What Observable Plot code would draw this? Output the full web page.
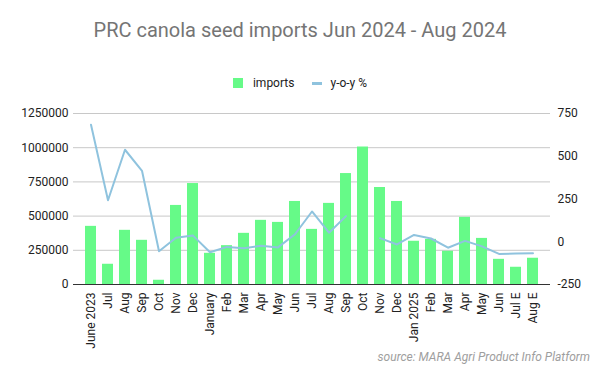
<!DOCTYPE html>
<html>
<head>
<meta charset="utf-8">
<script src="https://cdn.jsdelivr.net/npm/d3@7"></script>
<script src="https://cdn.jsdelivr.net/npm/@observablehq/plot@0.6"></script>
<style>
  html, body { margin: 0; padding: 0; background: #fff; }
  body { width: 600px; height: 371px; position: relative; overflow: hidden; font-family: Roboto, "Noto Sans", sans-serif; }
  #title { position: absolute; top: 18px; left: 0; width: 600px; text-align: center; font-size: 20px; color: #757575; }
  #legend { position: absolute; top: 76px; left: 0; width: 600px; display: flex; justify-content: center; align-items: center; font-size: 12px; color: #222; }
  #legend .sw { display: inline-block; width: 10px; height: 10px; background: #66fa88; margin-right: 10px; }
  #legend .ln { display: inline-block; width: 10px; height: 3px; background: #8fc3de; margin-left: 18px; margin-right: 8px; }
  #chart { position: absolute; top: 100px; left: 0; }
  #caption { position: absolute; top: 350px; right: 10px; font-size: 12px; font-style: italic; color: #9e9e9e; }
</style>
</head>
<body>
<div id="title">PRC canola seed imports Jun 2024 - Aug 2024</div>
<div id="legend"><span class="sw"></span><span>imports</span><span class="ln"></span><span>y-o-y %</span></div>
<div id="chart"></div>
<div id="caption">source: MARA Agri Product Info Platform</div>
<script>
const months = ["June 2023","Jul","Aug","Sep","Oct","Nov","Dec","January","Feb","Mar","Apr","May","Jun",
  "Jul ","Aug ","Sep ","Oct ","Nov ","Dec ","Jan 2025","Feb ","Mar ","Apr ","May ","Jun ","Jul E","Aug E"];
const imports = [425000,148000,396000,323000,31000,578000,738000,228000,284000,374000,469000,454000,607000,
  403000,593000,811000,1005000,709000,607000,316000,330000,243000,491000,337000,184000,126000,192000];
const yoy = [684,243,538,415,-56,23,36,-61,-30,-38,-24,-33,44,
  177,53,150,null,21,-16,40,19,-35,5,-27,-71,-69,-67];
const leftTicks = [0,250000,500000,750000,1000000,1250000];
const rightTicks = [-250,0,250,500,750];

// right axis range -250..750 maps onto left axis range 0..1250000
const toLeft = v => (v + 250) * 1250;

const rows = months.map((m, i) => ({month: m, imports: imports[i], yoy: yoy[i]}));

const chart = Plot.plot({
  width: 600,
  height: 271,
  marginTop: 13,
  marginBottom: 87,
  marginLeft: 73,
  marginRight: 50,
  style: {fontFamily: "Roboto, sans-serif", fontSize: "12px", color: "#222"},
  x: {domain: months, padding: 0.37, label: null},
  y: {domain: [0, 1250000], label: null},
  marks: [
    Plot.gridY(leftTicks, {stroke: "#c8c8c8", strokeOpacity: 1}),
    Plot.barY(rows, {x: "month", y: "imports", fill: "#66fa88"}),
    Plot.ruleY([0], {stroke: "#333", strokeWidth: 1}),
    Plot.lineY(rows, {x: "month", y: d => d.yoy == null ? NaN : toLeft(d.yoy), stroke: "#8fc3de", strokeWidth: 2, defined: d => d.yoy != null}),
    Plot.axisY(leftTicks, {anchor: "left", tickSize: 0, tickPadding: 5, label: null, tickFormat: d => String(d), fill: "#222", fontSize: 12}),
    Plot.axisY(rightTicks.map(toLeft), {anchor: "right", tickSize: 0, tickPadding: 7, label: null, tickFormat: d => String(d / 1250 - 250), fill: "#222", fontSize: 12}),
    Plot.axisX({tickSize: 0, tickPadding: 8, tickRotate: -90, label: null, fill: "#222", fontSize: 12, tickFormat: d => d.trim()})
  ]
});
document.getElementById("chart").appendChild(chart);
</script>
</body>
</html>
